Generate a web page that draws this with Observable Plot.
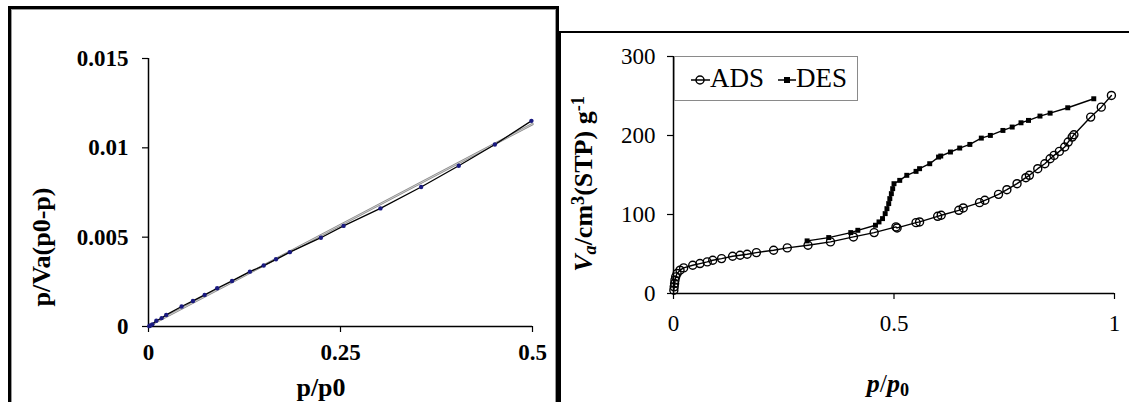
<!DOCTYPE html>
<html><head><meta charset="utf-8">
<script src="https://cdn.jsdelivr.net/npm/d3@7"></script>
<script src="https://cdn.jsdelivr.net/npm/@observablehq/plot@0.6"></script>
<style>
body{margin:0;background:#fff;}
#wrap{position:relative;width:1129px;height:402px;overflow:hidden;background:#fff;font-family:'Liberation Serif',serif;color:#000;}
.abs{position:absolute;white-space:nowrap;font-family:'Liberation Serif',serif;}
.rot{transform:translate(-50%,-50%) rotate(-90deg);}
.ctr{transform:translate(-50%,-50%);}
svg{overflow:visible;}
svg text{font-family:'Liberation Serif',serif !important;}
</style></head><body><div id="wrap"></div>
<script>
// Left panel: BET plot
const betX = [0.001, 0.0023, 0.005, 0.0102, 0.0171, 0.0231, 0.0431, 0.0579, 0.0731, 0.0894, 0.1088, 0.132, 0.150, 0.166, 0.184, 0.2245, 0.254, 0.302, 0.355, 0.404, 0.451, 0.4986];
const betY = [0.00002, 0.000056, 0.00012, 0.00032, 0.00047, 0.00065, 0.00112, 0.00143, 0.00177, 0.00214, 0.00255, 0.00307, 0.00341, 0.00376, 0.00416, 0.00497, 0.00563, 0.00661, 0.00781, 0.00900, 0.01019, 0.01151];
const fitX = [0, 0.5];
const fitY = [0.00003, 0.01133];
const leftXTicks = [0, 0.25, 0.5];
const leftYTicks = [0, 0.005, 0.01, 0.015];

// Right panel: isotherm
const adsX = [0.0008, 0.0016, 0.0025, 0.0033, 0.005, 0.0082, 0.0148, 0.023, 0.0436, 0.060, 0.0765, 0.089, 0.109, 0.134, 0.151, 0.167, 0.188, 0.227, 0.258, 0.305, 0.356, 0.408, 0.455, 0.5045, 0.507, 0.55, 0.558, 0.599, 0.607, 0.647, 0.657, 0.694, 0.706, 0.737, 0.756, 0.779, 0.799, 0.807, 0.826, 0.842, 0.854, 0.863, 0.875, 0.887, 0.895, 0.904, 0.908, 0.946, 0.970, 0.993];
const adsY = [4.2, 8.4, 12.6, 16.9, 21.1, 25.3, 29.5, 32.4, 35.8, 37.9, 40.0, 42.1, 44.2, 47.2, 48.4, 49.7, 51.8, 54.8, 57.7, 61.1, 65.3, 71.6, 77.1, 84.3, 83.0, 89.7, 90.6, 97.7, 99.0, 105.3, 108.3, 115.0, 118.0, 125.5, 131.4, 139.0, 146.6, 149.6, 158.0, 164.3, 170.6, 174.8, 179.9, 185.4, 191.7, 198.0, 201.0, 223.3, 235.9, 250.7];
const desX = [0.953, 0.894, 0.854, 0.831, 0.805, 0.788, 0.768, 0.747, 0.7185, 0.698, 0.672, 0.649, 0.628, 0.606, 0.601, 0.581, 0.558, 0.55, 0.529, 0.513, 0.500, 0.497, 0.494, 0.4905, 0.488, 0.484, 0.480, 0.474, 0.466, 0.458, 0.418, 0.402, 0.352, 0.303];
const desY = [246.5, 235.1, 228.3, 224.6, 219.1, 216.1, 210.7, 206.4, 200.1, 196.7, 188.7, 184.1, 179.1, 174.0, 172.7, 164.3, 158.0, 154.6, 149.6, 143.2, 139.0, 132.7, 126.4, 120.1, 113.8, 107.4, 101.1, 94.8, 90.6, 86.4, 80.0, 77.1, 70.8, 66.6];
const rightXTicks = [0, 0.5, 1];
const rightYTicks = [0, 100, 200, 300];

const SERIF = "'Liberation Serif', serif";
const bet = betX.map((x, i) => ({x, y: betY[i]}));
const fit = fitX.map((x, i) => ({x, y: fitY[i]}));
const ads = adsX.map((x, i) => ({x, y: adsY[i]}));
const des = desX.map((x, i) => ({x, y: desY[i]}));

const wrap = document.getElementById("wrap");
function addDiv(html, style, cls) {
  const d = document.createElement("div");
  d.className = "abs " + (cls || "");
  d.innerHTML = html;
  Object.assign(d.style, {fontFamily: SERIF}, style);
  wrap.appendChild(d);
  return d;
}

// panel frames
addDiv("", {left: "8px", top: "6px", width: "551px", height: "430px", border: "3px solid #000", boxSizing: "border-box", boxShadow: "inset 1px 1px 0 #9a9a9a, inset -1px 0 0 #9a9a9a"});
addDiv("", {left: "558px", top: "31px", width: "600px", height: "430px", borderTop: "2.5px solid #000", borderLeft: "3px solid #000", boxSizing: "border-box"});

const left = Plot.plot({
  width: 560, height: 402,
  marginLeft: 148, marginRight: 28, marginTop: 58, marginBottom: 76,
  x: {domain: [0, 0.5]},
  y: {domain: [0, 0.015]},
  style: {fontFamily: SERIF, fontSize: "23px", fontWeight: "bold", color: "#000", background: "transparent", overflow: "visible"},
  marks: [
    Plot.axisX({ticks: leftXTicks, tickSize: 6, tickPadding: 11, tickFormat: d => String(d), label: null, strokeWidth: 1.2, fontFamily: SERIF, fontWeight: "bold", fontSize: 23}),
    Plot.axisY({ticks: leftYTicks, tickSize: 6, tickPadding: 14, tickFormat: d => String(d), label: null, strokeWidth: 1.2, fontFamily: SERIF, fontWeight: "bold", fontSize: 23}),
    Plot.ruleX([0], {stroke: "#000", strokeWidth: 1.5}),
    Plot.ruleY([0], {stroke: "#000", strokeWidth: 1.5}),
    Plot.line(fit, {x: "x", y: "y", stroke: "#8c8c8c", strokeWidth: 2.4}),
    Plot.line(fit, {x: "x", y: "y", stroke: "#dcdcdc", strokeWidth: 0.8}),
    Plot.line(bet, {x: "x", y: "y", stroke: "#000", strokeWidth: 1.3}),
    Plot.dot(bet, {x: "x", y: "y", r: 2.2, fill: "#1a1a80", stroke: "none"})
  ]
});
Object.assign(left.style, {position: "absolute", left: "0px", top: "0px"});
wrap.appendChild(left);

const right = Plot.plot({
  width: 569, height: 402,
  marginLeft: 113, marginRight: 15, marginTop: 56, marginBottom: 109,
  x: {domain: [0, 1]},
  y: {domain: [0, 300]},
  style: {fontFamily: SERIF, fontSize: "23px", color: "#000", background: "transparent", overflow: "visible"},
  marks: [
    Plot.axisX({ticks: rightXTicks, tickSize: 6, tickPadding: 15, tickFormat: d => String(d), label: null, strokeWidth: 1.2, fontFamily: SERIF, fontSize: 23}),
    Plot.axisY({ticks: rightYTicks, tickSize: 6, tickPadding: 12, tickFormat: d => String(d), label: null, strokeWidth: 1.2, fontFamily: SERIF, fontSize: 23}),
    Plot.ruleX([0], {stroke: "#000", strokeWidth: 1.5}),
    Plot.ruleY([0], {stroke: "#000", strokeWidth: 1.5}),
    Plot.line(des, {x: "x", y: "y", stroke: "#000", strokeWidth: 1.4}),
    Plot.dot(des, {x: "x", y: "y", symbol: "square", r: 2.8, fill: "#000", stroke: "none"}),
    Plot.line(ads, {x: "x", y: "y", stroke: "#000", strokeWidth: 1.4}),
    Plot.dot(ads, {x: "x", y: "y", r: 4, fill: "none", stroke: "#000", strokeWidth: 1.4})
  ]
});
Object.assign(right.style, {position: "absolute", left: "560px", top: "0px"});
wrap.appendChild(right);

// axis titles
addDiv("p/Va(p0-p)", {left: "42px", top: "247px", fontSize: "26px", fontWeight: "bold"}, "rot");
addDiv("p/p0", {left: "321px", top: "388px", fontSize: "26px", fontWeight: "bold"}, "ctr");
addDiv('<i>V<sub style="font-size:0.7em;vertical-align:-0.25em">a</sub></i>/cm<sup style="font-size:0.7em;vertical-align:0.45em">3</sup>(STP) g<sup style="font-size:0.7em;vertical-align:0.45em">-1</sup>',
  {left: "584px", top: "184px", fontSize: "26px", fontWeight: "bold", lineHeight: "1"}, "rot");
addDiv('<b><i>p</i></b>/<b><i>p</i><sub style="font-size:0.7em;vertical-align:-0.25em">0</sub></b>',
  {left: "888px", top: "385px", fontSize: "26px", lineHeight: "1"}, "ctr");

// legend
addDiv(
  '<svg width="184" height="45" style="position:absolute;left:0;top:0">' +
  '<line x1="16" y1="23" x2="35" y2="23" stroke="#000" stroke-width="1.5"/>' +
  '<circle cx="25" cy="23" r="4" fill="none" stroke="#000" stroke-width="1.5"/>' +
  '<line x1="103" y1="23" x2="121" y2="23" stroke="#000" stroke-width="1.5"/>' +
  '<rect x="109" y="20" width="6" height="6" fill="#000"/>' +
  '</svg>' +
  '<span style="position:absolute;left:35px;top:5px;font-size:27px;line-height:1.2">ADS</span>' +
  '<span style="position:absolute;left:121px;top:5px;font-size:27px;line-height:1.2">DES</span>',
  {left: "674px", top: "56px", width: "184px", height: "45px", border: "1px solid #8a8a8a", background: "#fff", boxSizing: "border-box"});
</script>
</body></html>
